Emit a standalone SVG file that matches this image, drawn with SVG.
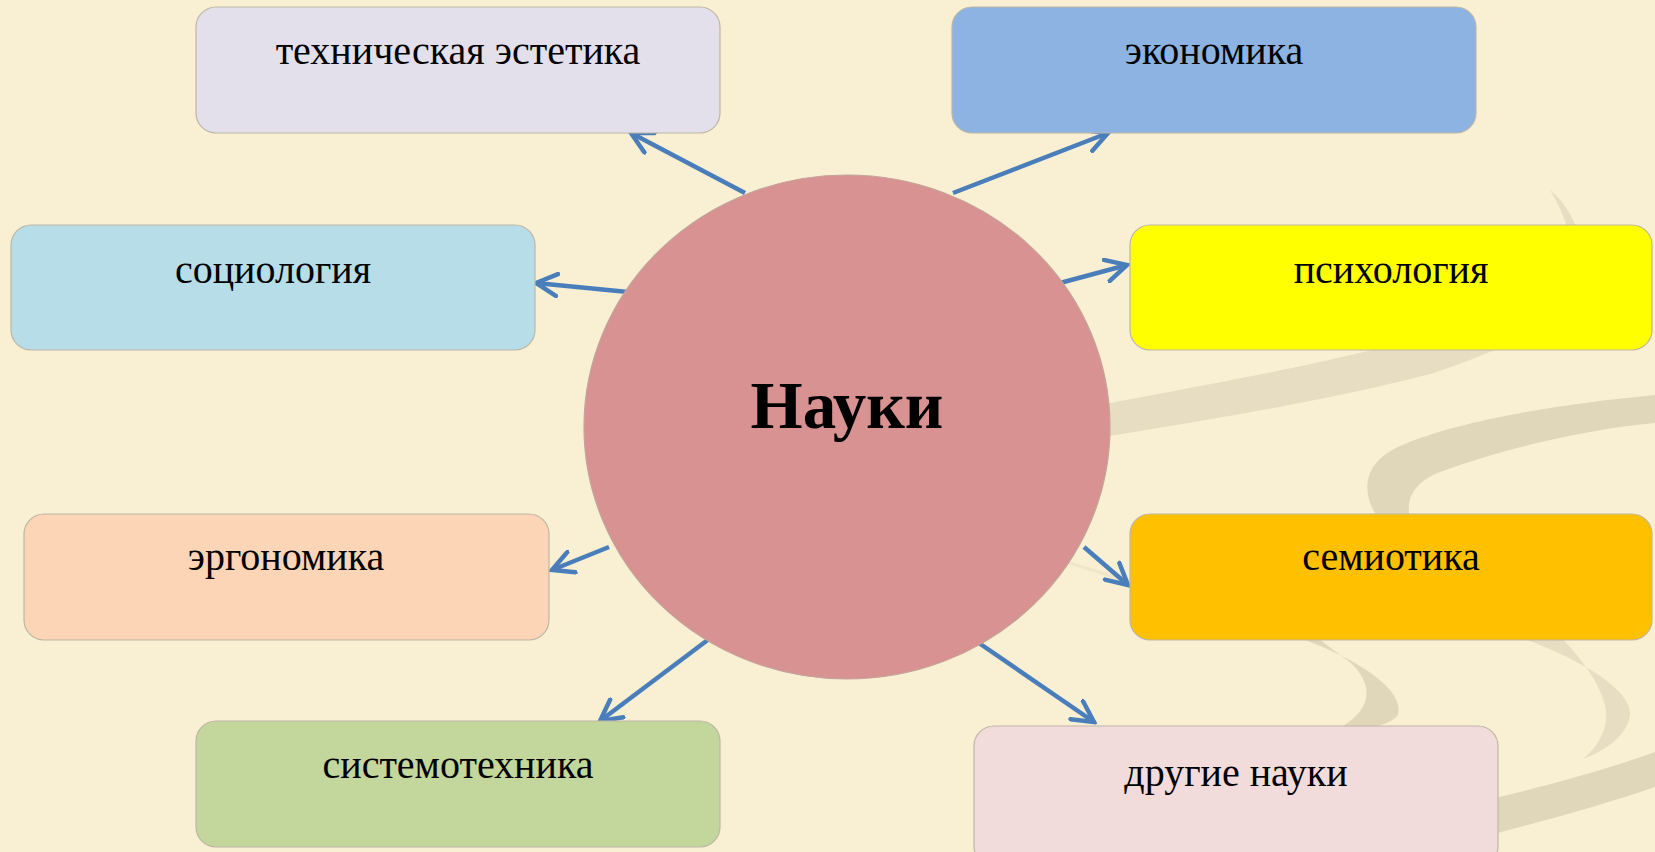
<svg xmlns="http://www.w3.org/2000/svg" width="1655" height="852" viewBox="0 0 1655 852">
<style>
.bg{fill:#F9F0D4}
.band{fill:#E6DDC2}
.band2{fill:#E0D6BA}
.box{stroke:#BDB6A5;stroke-width:1.2}
.lbl{font-family:"Liberation Serif","Times New Roman",serif;font-size:40px;fill:#000;text-anchor:middle}
.title{font-family:"Liberation Serif","Times New Roman",serif;font-size:67px;font-weight:bold;fill:#000;text-anchor:middle}
.conn{stroke:#4A7EBB;stroke-width:4.5;fill:none;marker-end:url(#arr)}
</style>
<defs>
<marker id="arr" viewBox="0 0 26 26" refX="23" refY="13" markerWidth="26" markerHeight="26" markerUnits="userSpaceOnUse" orient="auto">
<path d="M2,2 L23,13 L2,24" fill="none" stroke="#4A7EBB" stroke-width="4.5" stroke-linecap="round" stroke-linejoin="miter"/>
</marker>
</defs>
<rect class="bg" x="0" y="0" width="1655" height="852"/>
<g id="background">
<path class="band" d="M1060,418 L1110,403 C1200,386 1300,368 1380,348 L1500,348 C1470,360 1450,368 1430,374 C1330,400 1220,418 1110,436 L1060,446 Z"/>
<path class="band2" d="M1655,395 C1560,404 1460,420 1400,446 C1360,464 1362,495 1378,518 L1410,518 C1405,498 1415,482 1440,472 C1500,450 1580,430 1655,423 Z"/>
<path class="band2" d="M1300,638 C1360,660 1405,690 1398,715 C1390,726 1362,730 1332,732 C1368,715 1378,690 1352,664 C1340,654 1326,645 1318,638 Z"/>
<path class="band" d="M1522,638 C1582,660 1632,690 1630,715 C1627,736 1606,750 1583,759 C1600,745 1610,725 1605,705 C1598,680 1582,660 1562,638 Z"/>
<path class="band2" d="M1470,804 C1530,790 1600,772 1655,752 L1655,787 C1600,806 1540,822 1470,840 Z"/>
<path class="band" d="M1550,190 C1562,200 1572,214 1577,230 L1568,230 C1564,216 1558,203 1550,190 Z"/>
<path d="M1066,562 L1118,578" stroke="#EEE5CB" stroke-width="3" fill="none"/>
</g>
<g id="connectors">
<line class="conn" x1="745" y1="193" x2="631" y2="133"/>
<line class="conn" x1="953" y1="193" x2="1108" y2="133"/>
<line class="conn" x1="628" y1="292" x2="536" y2="283"/>
<line class="conn" x1="1060" y1="283" x2="1127" y2="265"/>
<line class="conn" x1="609" y1="547" x2="552" y2="570"/>
<line class="conn" x1="1084" y1="547" x2="1128" y2="585"/>
<line class="conn" x1="709" y1="639" x2="600" y2="721"/>
<line class="conn" x1="976" y1="641" x2="1094" y2="722"/>
</g>
<g id="center">
<ellipse cx="847" cy="427" rx="263" ry="252" fill="#D79291" stroke="#C4A39A" stroke-width="1.2"/>
<text class="title" x="847" y="428">Науки</text>
</g>
<g id="n-tech">
<rect class="box" x="196" y="7" width="524" height="126" rx="20" fill="#E3DFEB"/>
<text class="lbl" x="458" y="64">техническая эстетика</text>
</g>
<g id="n-econ">
<rect class="box" x="952" y="7" width="524" height="126" rx="20" fill="#8DB3E2"/>
<text class="lbl" x="1214" y="64">экономика</text>
</g>
<g id="n-socio">
<rect class="box" x="11" y="225" width="524" height="125" rx="20" fill="#B6DDE8"/>
<text class="lbl" x="273" y="283">социология</text>
</g>
<g id="n-psych">
<rect class="box" x="1130" y="225" width="522" height="125" rx="20" fill="#FFFF00"/>
<text class="lbl" x="1391" y="283">психология</text>
</g>
<g id="n-ergo">
<rect class="box" x="24" y="514" width="525" height="126" rx="20" fill="#FBD5B5"/>
<text class="lbl" x="286" y="570">эргономика</text>
</g>
<g id="n-semio">
<rect class="box" x="1130" y="514" width="522" height="126" rx="20" fill="#FFC000"/>
<text class="lbl" x="1391" y="570">семиотика</text>
</g>
<g id="n-system">
<rect class="box" x="196" y="721" width="524" height="126" rx="20" fill="#C3D69B"/>
<text class="lbl" x="458" y="778">системотехника</text>
</g>
<g id="n-other">
<rect class="box" x="974" y="726" width="524" height="140" rx="20" fill="#F2DCDB"/>
<text class="lbl" x="1236" y="786">другие науки</text>
</g>
</svg>
